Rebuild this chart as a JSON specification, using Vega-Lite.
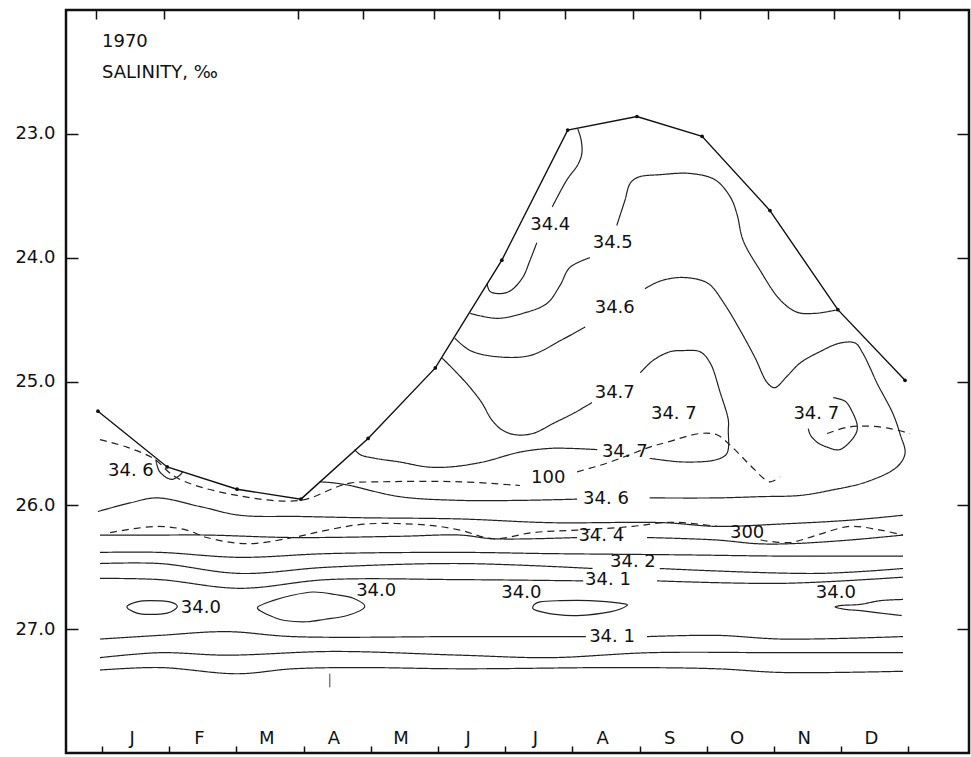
{
  "$schema": "https://vega.github.io/schema/vega-lite/v6.json",
  "width": 903,
  "height": 743,
  "autosize": {"type": "none"},
  "padding": {"left": 66, "top": 10, "right": 2, "bottom": 4},
  "background": "white",
  "config": {
    "view": {"stroke": "#111", "strokeWidth": 2.5},
    "font": "DejaVu Sans",
    "axis": {"domain": false, "grid": false, "tickColor": "#111", "tickWidth": 1.5, "labelColor": "#111", "labelFont": "DejaVu Sans", "labelFontSize": 18, "title": null}
  },
  "datasets": {
    "contours": [
      {"s": "s46s", "k": "salinity", "x": 0.80, "y": 25.63}, {"s": "s46s", "k": "salinity", "x": 0.86, "y": 25.73}, {"s": "s46s", "k": "salinity", "x": 1.03, "y": 25.79}, {"s": "s46s", "k": "salinity", "x": 1.15, "y": 25.76}, {"s": "s46s", "k": "salinity", "x": 1.20, "y": 25.73},
      {"s": "s44a", "k": "salinity", "x": 5.73, "y": 24.21}, {"s": "s44a", "k": "salinity", "x": 5.77, "y": 24.27}, {"s": "s44a", "k": "salinity", "x": 5.89, "y": 24.29}, {"s": "s44a", "k": "salinity", "x": 6.07, "y": 24.27}, {"s": "s44a", "k": "salinity", "x": 6.26, "y": 24.16}, {"s": "s44a", "k": "salinity", "x": 6.37, "y": 24.02}, {"s": "s44a", "k": "salinity", "x": 6.47, "y": 23.88},
      {"s": "s44b", "k": "salinity", "x": 6.70, "y": 23.59}, {"s": "s44b", "k": "salinity", "x": 6.92, "y": 23.37}, {"s": "s44b", "k": "salinity", "x": 7.08, "y": 23.25}, {"s": "s44b", "k": "salinity", "x": 7.14, "y": 23.16}, {"s": "s44b", "k": "salinity", "x": 7.13, "y": 23.05}, {"s": "s44b", "k": "salinity", "x": 7.08, "y": 22.96},
      {"s": "s45a", "k": "salinity", "x": 5.48, "y": 24.45}, {"s": "s45a", "k": "salinity", "x": 5.88, "y": 24.49}, {"s": "s45a", "k": "salinity", "x": 6.26, "y": 24.45}, {"s": "s45a", "k": "salinity", "x": 6.62, "y": 24.37}, {"s": "s45a", "k": "salinity", "x": 6.82, "y": 24.22}, {"s": "s45a", "k": "salinity", "x": 6.96, "y": 24.08}, {"s": "s45a", "k": "salinity", "x": 7.26, "y": 24.00},
      {"s": "s45b", "k": "salinity", "x": 7.66, "y": 23.74}, {"s": "s45b", "k": "salinity", "x": 7.78, "y": 23.54}, {"s": "s45b", "k": "salinity", "x": 7.86, "y": 23.40}, {"s": "s45b", "k": "salinity", "x": 7.98, "y": 23.35}, {"s": "s45b", "k": "salinity", "x": 8.30, "y": 23.33}, {"s": "s45b", "k": "salinity", "x": 8.75, "y": 23.32}, {"s": "s45b", "k": "salinity", "x": 9.12, "y": 23.37}, {"s": "s45b", "k": "salinity", "x": 9.35, "y": 23.51}, {"s": "s45b", "k": "salinity", "x": 9.45, "y": 23.65}, {"s": "s45b", "k": "salinity", "x": 9.54, "y": 23.86}, {"s": "s45b", "k": "salinity", "x": 9.79, "y": 24.10}, {"s": "s45b", "k": "salinity", "x": 10.09, "y": 24.34}, {"s": "s45b", "k": "salinity", "x": 10.34, "y": 24.44}, {"s": "s45b", "k": "salinity", "x": 10.61, "y": 24.45}, {"s": "s45b", "k": "salinity", "x": 10.95, "y": 24.42},
      {"s": "s46a", "k": "salinity", "x": 5.25, "y": 24.65}, {"s": "s46a", "k": "salinity", "x": 5.48, "y": 24.75}, {"s": "s46a", "k": "salinity", "x": 5.88, "y": 24.80}, {"s": "s46a", "k": "salinity", "x": 6.37, "y": 24.79}, {"s": "s46a", "k": "salinity", "x": 6.82, "y": 24.67}, {"s": "s46a", "k": "salinity", "x": 7.19, "y": 24.56},
      {"s": "s46b", "k": "salinity", "x": 8.08, "y": 24.25}, {"s": "s46b", "k": "salinity", "x": 8.30, "y": 24.19}, {"s": "s46b", "k": "salinity", "x": 8.60, "y": 24.16}, {"s": "s46b", "k": "salinity", "x": 8.90, "y": 24.18}, {"s": "s46b", "k": "salinity", "x": 9.05, "y": 24.22}, {"s": "s46b", "k": "salinity", "x": 9.27, "y": 24.38}, {"s": "s46b", "k": "salinity", "x": 9.49, "y": 24.58}, {"s": "s46b", "k": "salinity", "x": 9.72, "y": 24.81}, {"s": "s46b", "k": "salinity", "x": 9.90, "y": 25.01}, {"s": "s46b", "k": "salinity", "x": 10.01, "y": 25.05}, {"s": "s46b", "k": "salinity", "x": 10.19, "y": 24.96}, {"s": "s46b", "k": "salinity", "x": 10.39, "y": 24.85}, {"s": "s46b", "k": "salinity", "x": 10.68, "y": 24.76}, {"s": "s46b", "k": "salinity", "x": 10.98, "y": 24.69}, {"s": "s46b", "k": "salinity", "x": 11.21, "y": 24.69}, {"s": "s46b", "k": "salinity", "x": 11.32, "y": 24.77}, {"s": "s46b", "k": "salinity", "x": 11.43, "y": 24.89}, {"s": "s46b", "k": "salinity", "x": 11.53, "y": 25.01}, {"s": "s46b", "k": "salinity", "x": 11.77, "y": 25.26}, {"s": "s46b", "k": "salinity", "x": 11.88, "y": 25.43}, {"s": "s46b", "k": "salinity", "x": 11.95, "y": 25.58}, {"s": "s46b", "k": "salinity", "x": 11.83, "y": 25.69}, {"s": "s46b", "k": "salinity", "x": 11.38, "y": 25.81}, {"s": "s46b", "k": "salinity", "x": 10.83, "y": 25.88}, {"s": "s46b", "k": "salinity", "x": 10.39, "y": 25.92}, {"s": "s46b", "k": "salinity", "x": 9.79, "y": 25.93}, {"s": "s46b", "k": "salinity", "x": 9.15, "y": 25.94}, {"s": "s46b", "k": "salinity", "x": 8.15, "y": 25.94},
      {"s": "s46c", "k": "salinity", "x": 7.07, "y": 25.95}, {"s": "s46c", "k": "salinity", "x": 6.22, "y": 25.96}, {"s": "s46c", "k": "salinity", "x": 5.33, "y": 25.96}, {"s": "s46c", "k": "salinity", "x": 4.43, "y": 25.93}, {"s": "s46c", "k": "salinity", "x": 3.69, "y": 25.84}, {"s": "s46c", "k": "salinity", "x": 3.47, "y": 25.82}, {"s": "s46c", "k": "salinity", "x": 3.24, "y": 25.81},
      {"s": "s47a", "k": "salinity", "x": 5.06, "y": 24.81}, {"s": "s47a", "k": "salinity", "x": 5.28, "y": 24.93}, {"s": "s47a", "k": "salinity", "x": 5.48, "y": 25.05}, {"s": "s47a", "k": "salinity", "x": 5.65, "y": 25.17}, {"s": "s47a", "k": "salinity", "x": 5.80, "y": 25.31}, {"s": "s47a", "k": "salinity", "x": 5.95, "y": 25.39}, {"s": "s47a", "k": "salinity", "x": 6.15, "y": 25.43}, {"s": "s47a", "k": "salinity", "x": 6.41, "y": 25.42}, {"s": "s47a", "k": "salinity", "x": 6.71, "y": 25.34}, {"s": "s47a", "k": "salinity", "x": 7.04, "y": 25.25}, {"s": "s47a", "k": "salinity", "x": 7.29, "y": 25.17},
      {"s": "s47b", "k": "salinity", "x": 8.01, "y": 24.93}, {"s": "s47b", "k": "salinity", "x": 8.20, "y": 24.83}, {"s": "s47b", "k": "salinity", "x": 8.45, "y": 24.76}, {"s": "s47b", "k": "salinity", "x": 8.65, "y": 24.75}, {"s": "s47b", "k": "salinity", "x": 8.90, "y": 24.76}, {"s": "s47b", "k": "salinity", "x": 9.05, "y": 24.85}, {"s": "s47b", "k": "salinity", "x": 9.20, "y": 25.09}, {"s": "s47b", "k": "salinity", "x": 9.32, "y": 25.31}, {"s": "s47b", "k": "salinity", "x": 9.32, "y": 25.39}, {"s": "s47b", "k": "salinity", "x": 9.30, "y": 25.58}, {"s": "s47b", "k": "salinity", "x": 9.15, "y": 25.63}, {"s": "s47b", "k": "salinity", "x": 8.65, "y": 25.65}, {"s": "s47b", "k": "salinity", "x": 8.15, "y": 25.62},
      {"s": "s47c", "k": "salinity", "x": 7.37, "y": 25.55}, {"s": "s47c", "k": "salinity", "x": 6.96, "y": 25.54}, {"s": "s47c", "k": "salinity", "x": 6.67, "y": 25.54}, {"s": "s47c", "k": "salinity", "x": 6.22, "y": 25.57}, {"s": "s47c", "k": "salinity", "x": 5.67, "y": 25.65}, {"s": "s47c", "k": "salinity", "x": 5.18, "y": 25.69}, {"s": "s47c", "k": "salinity", "x": 4.84, "y": 25.69}, {"s": "s47c", "k": "salinity", "x": 4.43, "y": 25.65}, {"s": "s47c", "k": "salinity", "x": 4.06, "y": 25.62}, {"s": "s47c", "k": "salinity", "x": 3.84, "y": 25.59}, {"s": "s47c", "k": "salinity", "x": 3.76, "y": 25.55},
      {"s": "s47r", "k": "salinity", "x": 10.88, "y": 25.13}, {"s": "s47r", "k": "salinity", "x": 11.06, "y": 25.16}, {"s": "s47r", "k": "salinity", "x": 11.16, "y": 25.24}, {"s": "s47r", "k": "salinity", "x": 11.24, "y": 25.36}, {"s": "s47r", "k": "salinity", "x": 11.21, "y": 25.43}, {"s": "s47r", "k": "salinity", "x": 10.98, "y": 25.55}, {"s": "s47r", "k": "salinity", "x": 10.79, "y": 25.53}, {"s": "s47r", "k": "salinity", "x": 10.64, "y": 25.49}, {"s": "s47r", "k": "salinity", "x": 10.54, "y": 25.43}, {"s": "s47r", "k": "salinity", "x": 10.51, "y": 25.38},
      {"s": "l45", "k": "salinity", "x": -0.06, "y": 26.05}, {"s": "l45", "k": "salinity", "x": 0.42, "y": 25.98}, {"s": "l45", "k": "salinity", "x": 0.82, "y": 25.94}, {"s": "l45", "k": "salinity", "x": 1.46, "y": 26.01}, {"s": "l45", "k": "salinity", "x": 2.05, "y": 26.08}, {"s": "l45", "k": "salinity", "x": 2.95, "y": 26.09}, {"s": "l45", "k": "salinity", "x": 3.84, "y": 26.10}, {"s": "l45", "k": "salinity", "x": 5.33, "y": 26.11}, {"s": "l45", "k": "salinity", "x": 6.67, "y": 26.14}, {"s": "l45", "k": "salinity", "x": 8.35, "y": 26.14}, {"s": "l45", "k": "salinity", "x": 9.15, "y": 26.17}, {"s": "l45", "k": "salinity", "x": 10.13, "y": 26.15}, {"s": "l45", "k": "salinity", "x": 11.13, "y": 26.12}, {"s": "l45", "k": "salinity", "x": 11.92, "y": 26.08},
      {"s": "l44a", "k": "salinity", "x": -0.03, "y": 26.24}, {"s": "l44a", "k": "salinity", "x": 0.86, "y": 26.24}, {"s": "l44a", "k": "salinity", "x": 1.56, "y": 26.24}, {"s": "l44a", "k": "salinity", "x": 2.84, "y": 26.26}, {"s": "l44a", "k": "salinity", "x": 4.43, "y": 26.25}, {"s": "l44a", "k": "salinity", "x": 5.33, "y": 26.24}, {"s": "l44a", "k": "salinity", "x": 5.82, "y": 26.27}, {"s": "l44a", "k": "salinity", "x": 7.07, "y": 26.26},
      {"s": "l44b", "k": "salinity", "x": 8.11, "y": 26.26}, {"s": "l44b", "k": "salinity", "x": 9.15, "y": 26.28}, {"s": "l44b", "k": "salinity", "x": 9.75, "y": 26.31}, {"s": "l44b", "k": "salinity", "x": 10.24, "y": 26.31}, {"s": "l44b", "k": "salinity", "x": 11.13, "y": 26.28}, {"s": "l44b", "k": "salinity", "x": 11.92, "y": 26.24},
      {"s": "l43", "k": "salinity", "x": -0.03, "y": 26.38}, {"s": "l43", "k": "salinity", "x": 0.86, "y": 26.38}, {"s": "l43", "k": "salinity", "x": 2.05, "y": 26.42}, {"s": "l43", "k": "salinity", "x": 3.35, "y": 26.39}, {"s": "l43", "k": "salinity", "x": 5.33, "y": 26.38}, {"s": "l43", "k": "salinity", "x": 6.67, "y": 26.39}, {"s": "l43", "k": "salinity", "x": 8.65, "y": 26.40}, {"s": "l43", "k": "salinity", "x": 10.13, "y": 26.41}, {"s": "l43", "k": "salinity", "x": 11.92, "y": 26.41},
      {"s": "l42a", "k": "salinity", "x": -0.03, "y": 26.47}, {"s": "l42a", "k": "salinity", "x": 0.86, "y": 26.47}, {"s": "l42a", "k": "salinity", "x": 2.05, "y": 26.55}, {"s": "l42a", "k": "salinity", "x": 3.35, "y": 26.50}, {"s": "l42a", "k": "salinity", "x": 5.33, "y": 26.47}, {"s": "l42a", "k": "salinity", "x": 7.30, "y": 26.51},
      {"s": "l42b", "k": "salinity", "x": 8.30, "y": 26.51}, {"s": "l42b", "k": "salinity", "x": 10.64, "y": 26.55}, {"s": "l42b", "k": "salinity", "x": 11.92, "y": 26.51},
      {"s": "l41a", "k": "salinity", "x": -0.03, "y": 26.59}, {"s": "l41a", "k": "salinity", "x": 0.86, "y": 26.60}, {"s": "l41a", "k": "salinity", "x": 2.05, "y": 26.67}, {"s": "l41a", "k": "salinity", "x": 3.35, "y": 26.60}, {"s": "l41a", "k": "salinity", "x": 5.33, "y": 26.60}, {"s": "l41a", "k": "salinity", "x": 7.16, "y": 26.61},
      {"s": "l41b", "k": "salinity", "x": 8.26, "y": 26.61}, {"s": "l41b", "k": "salinity", "x": 10.13, "y": 26.63}, {"s": "l41b", "k": "salinity", "x": 11.92, "y": 26.58},
      {"s": "o40", "k": "salinity", "x": 11.92, "y": 26.76}, {"s": "o40", "k": "salinity", "x": 11.58, "y": 26.77}, {"s": "o40", "k": "salinity", "x": 11.28, "y": 26.80}, {"s": "o40", "k": "salinity", "x": 10.98, "y": 26.81}, {"s": "o40", "k": "salinity", "x": 10.91, "y": 26.82}, {"s": "o40", "k": "salinity", "x": 11.06, "y": 26.84}, {"s": "o40", "k": "salinity", "x": 11.28, "y": 26.85}, {"s": "o40", "k": "salinity", "x": 11.58, "y": 26.87}, {"s": "o40", "k": "salinity", "x": 11.90, "y": 26.89},
      {"s": "g41a", "k": "salinity", "x": -0.03, "y": 27.08}, {"s": "g41a", "k": "salinity", "x": 0.86, "y": 27.05}, {"s": "g41a", "k": "salinity", "x": 1.86, "y": 27.02}, {"s": "g41a", "k": "salinity", "x": 2.84, "y": 27.06}, {"s": "g41a", "k": "salinity", "x": 5.33, "y": 27.06}, {"s": "g41a", "k": "salinity", "x": 7.20, "y": 27.06},
      {"s": "g41b", "k": "salinity", "x": 8.11, "y": 27.06}, {"s": "g41b", "k": "salinity", "x": 9.15, "y": 27.05}, {"s": "g41b", "k": "salinity", "x": 10.13, "y": 27.08}, {"s": "g41b", "k": "salinity", "x": 11.92, "y": 27.06},
      {"s": "h", "k": "salinity", "x": -0.03, "y": 27.23}, {"s": "h", "k": "salinity", "x": 0.86, "y": 27.19}, {"s": "h", "k": "salinity", "x": 1.86, "y": 27.21}, {"s": "h", "k": "salinity", "x": 3.44, "y": 27.18}, {"s": "h", "k": "salinity", "x": 5.33, "y": 27.21}, {"s": "h", "k": "salinity", "x": 6.67, "y": 27.23}, {"s": "h", "k": "salinity", "x": 8.15, "y": 27.19}, {"s": "h", "k": "salinity", "x": 10.13, "y": 27.19}, {"s": "h", "k": "salinity", "x": 11.92, "y": 27.19},
      {"s": "i", "k": "salinity", "x": -0.03, "y": 27.33}, {"s": "i", "k": "salinity", "x": 0.86, "y": 27.31}, {"s": "i", "k": "salinity", "x": 2.01, "y": 27.36}, {"s": "i", "k": "salinity", "x": 2.84, "y": 27.32}, {"s": "i", "k": "salinity", "x": 3.84, "y": 27.31}, {"s": "i", "k": "salinity", "x": 5.33, "y": 27.32}, {"s": "i", "k": "salinity", "x": 7.75, "y": 27.31}, {"s": "i", "k": "salinity", "x": 9.15, "y": 27.32}, {"s": "i", "k": "salinity", "x": 10.13, "y": 27.35}, {"s": "i", "k": "salinity", "x": 11.92, "y": 27.34},
      {"s": "d100a", "k": "depth", "x": -0.03, "y": 25.47}, {"s": "d100a", "k": "depth", "x": 0.37, "y": 25.53}, {"s": "d100a", "k": "depth", "x": 0.76, "y": 25.62}, {"s": "d100a", "k": "depth", "x": 1.12, "y": 25.78}, {"s": "d100a", "k": "depth", "x": 2.01, "y": 25.92}, {"s": "d100a", "k": "depth", "x": 2.95, "y": 25.96}, {"s": "d100a", "k": "depth", "x": 3.50, "y": 25.85}, {"s": "d100a", "k": "depth", "x": 3.69, "y": 25.82}, {"s": "d100a", "k": "depth", "x": 4.13, "y": 25.81}, {"s": "d100a", "k": "depth", "x": 5.33, "y": 25.81}, {"s": "d100a", "k": "depth", "x": 6.22, "y": 25.84},
      {"s": "d100b", "k": "depth", "x": 7.07, "y": 25.73}, {"s": "d100b", "k": "depth", "x": 7.51, "y": 25.66}, {"s": "d100b", "k": "depth", "x": 7.86, "y": 25.59}, {"s": "d100b", "k": "depth", "x": 8.15, "y": 25.53}, {"s": "d100b", "k": "depth", "x": 8.41, "y": 25.49}, {"s": "d100b", "k": "depth", "x": 8.90, "y": 25.42}, {"s": "d100b", "k": "depth", "x": 9.15, "y": 25.43}, {"s": "d100b", "k": "depth", "x": 9.32, "y": 25.50}, {"s": "d100b", "k": "depth", "x": 9.49, "y": 25.59}, {"s": "d100b", "k": "depth", "x": 9.67, "y": 25.69}, {"s": "d100b", "k": "depth", "x": 9.94, "y": 25.81}, {"s": "d100b", "k": "depth", "x": 10.09, "y": 25.77},
      {"s": "d100c", "k": "depth", "x": 10.79, "y": 25.42}, {"s": "d100c", "k": "depth", "x": 11.09, "y": 25.37}, {"s": "d100c", "k": "depth", "x": 11.38, "y": 25.36}, {"s": "d100c", "k": "depth", "x": 11.73, "y": 25.38}, {"s": "d100c", "k": "depth", "x": 12.02, "y": 25.42},
      {"s": "d300a", "k": "depth", "x": 0.12, "y": 26.22}, {"s": "d300a", "k": "depth", "x": 0.82, "y": 26.17}, {"s": "d300a", "k": "depth", "x": 1.26, "y": 26.20}, {"s": "d300a", "k": "depth", "x": 1.56, "y": 26.26}, {"s": "d300a", "k": "depth", "x": 2.16, "y": 26.31}, {"s": "d300a", "k": "depth", "x": 2.84, "y": 26.26}, {"s": "d300a", "k": "depth", "x": 3.35, "y": 26.20}, {"s": "d300a", "k": "depth", "x": 3.94, "y": 26.15}, {"s": "d300a", "k": "depth", "x": 4.84, "y": 26.16}, {"s": "d300a", "k": "depth", "x": 5.33, "y": 26.20}, {"s": "d300a", "k": "depth", "x": 5.82, "y": 26.27}, {"s": "d300a", "k": "depth", "x": 6.41, "y": 26.22}, {"s": "d300a", "k": "depth", "x": 7.07, "y": 26.20}, {"s": "d300a", "k": "depth", "x": 7.90, "y": 26.17}, {"s": "d300a", "k": "depth", "x": 8.35, "y": 26.14}, {"s": "d300a", "k": "depth", "x": 8.65, "y": 26.14}, {"s": "d300a", "k": "depth", "x": 9.15, "y": 26.17},
      {"s": "d300b", "k": "depth", "x": 9.80, "y": 26.28}, {"s": "d300b", "k": "depth", "x": 10.24, "y": 26.30}, {"s": "d300b", "k": "depth", "x": 10.64, "y": 26.24}, {"s": "d300b", "k": "depth", "x": 11.13, "y": 26.17}, {"s": "d300b", "k": "depth", "x": 11.58, "y": 26.20}, {"s": "d300b", "k": "depth", "x": 11.92, "y": 26.24}
    ],
    "loops": [
      {"s": "c1", "x": 0.37, "y": 26.82}, {"s": "c1", "x": 0.52, "y": 26.78}, {"s": "c1", "x": 0.71, "y": 26.77}, {"s": "c1", "x": 1.01, "y": 26.78}, {"s": "c1", "x": 1.12, "y": 26.82}, {"s": "c1", "x": 0.97, "y": 26.87}, {"s": "c1", "x": 0.71, "y": 26.88}, {"s": "c1", "x": 0.52, "y": 26.87},
      {"s": "c2", "x": 2.32, "y": 26.82}, {"s": "c2", "x": 2.54, "y": 26.77}, {"s": "c2", "x": 2.80, "y": 26.73}, {"s": "c2", "x": 3.14, "y": 26.70}, {"s": "c2", "x": 3.47, "y": 26.72}, {"s": "c2", "x": 3.74, "y": 26.75}, {"s": "c2", "x": 3.91, "y": 26.82}, {"s": "c2", "x": 3.65, "y": 26.89}, {"s": "c2", "x": 3.32, "y": 26.92}, {"s": "c2", "x": 3.05, "y": 26.94}, {"s": "c2", "x": 2.72, "y": 26.93}, {"s": "c2", "x": 2.54, "y": 26.90}, {"s": "c2", "x": 2.38, "y": 26.86},
      {"s": "c3", "x": 6.41, "y": 26.82}, {"s": "c3", "x": 6.52, "y": 26.78}, {"s": "c3", "x": 6.82, "y": 26.77}, {"s": "c3", "x": 7.26, "y": 26.77}, {"s": "c3", "x": 7.71, "y": 26.79}, {"s": "c3", "x": 7.81, "y": 26.81}, {"s": "c3", "x": 7.56, "y": 26.86}, {"s": "c3", "x": 7.07, "y": 26.89}, {"s": "c3", "x": 6.74, "y": 26.88}, {"s": "c3", "x": 6.47, "y": 26.85}
    ],
    "surface": [
      {"x": -0.06, "y": 25.24}, {"x": 0.97, "y": 25.69}, {"x": 2.01, "y": 25.87}, {"x": 2.96, "y": 25.95}, {"x": 3.96, "y": 25.46}, {"x": 4.96, "y": 24.89}, {"x": 5.95, "y": 24.02}, {"x": 6.93, "y": 22.97}, {"x": 7.96, "y": 22.86}, {"x": 8.93, "y": 23.02}, {"x": 9.94, "y": 23.62}, {"x": 10.95, "y": 24.42}, {"x": 11.95, "y": 24.99}
    ],
    "labels": [
      {"t": "34. 6", "x": 0.43, "y": 25.72},
      {"t": "34.4", "x": 6.67, "y": 23.74},
      {"t": "34.5", "x": 7.60, "y": 23.88},
      {"t": "34.6", "x": 7.63, "y": 24.41},
      {"t": "34.7", "x": 7.63, "y": 25.09},
      {"t": "34. 7", "x": 8.51, "y": 25.26},
      {"t": "34. 7", "x": 7.78, "y": 25.57},
      {"t": "34. 7", "x": 10.63, "y": 25.26},
      {"t": "100", "x": 6.64, "y": 25.78},
      {"t": "34. 6", "x": 7.50, "y": 25.95},
      {"t": "34. 4", "x": 7.43, "y": 26.25},
      {"t": "300", "x": 9.60, "y": 26.22},
      {"t": "34. 2", "x": 7.90, "y": 26.46},
      {"t": "34. 1", "x": 7.53, "y": 26.60},
      {"t": "34.0", "x": 1.47, "y": 26.83},
      {"t": "34.0", "x": 4.08, "y": 26.69},
      {"t": "34.0", "x": 6.24, "y": 26.71},
      {"t": "34.0", "x": 10.92, "y": 26.71},
      {"t": "34. 1", "x": 7.59, "y": 27.06}
    ],
    "months": [
      {"t": "J", "x": 0.45, "y": 27.89}, {"t": "F", "x": 1.45, "y": 27.89}, {"t": "M", "x": 2.45, "y": 27.89}, {"t": "A", "x": 3.45, "y": 27.89}, {"t": "M", "x": 4.45, "y": 27.89}, {"t": "J", "x": 5.45, "y": 27.89}, {"t": "J", "x": 6.45, "y": 27.89}, {"t": "A", "x": 7.45, "y": 27.89}, {"t": "S", "x": 8.45, "y": 27.89}, {"t": "O", "x": 9.45, "y": 27.89}, {"t": "N", "x": 10.45, "y": 27.89}, {"t": "D", "x": 11.45, "y": 27.89}
    ],
    "titles": [
      {"t": "1970", "x": 0.0, "y": 22.255},
      {"t": "SALINITY, ‰", "x": 0.0, "y": 22.505}
    ],
    "stray": [
      {"x": 3.39, "y": 27.36, "y2": 27.47}
    ]
  },
  "encoding": {
    "x": {"field": "x", "type": "quantitative", "scale": {"domain": [-0.536, 12.902], "nice": false, "zero": false}, "axis": null},
    "y": {"field": "y", "type": "quantitative", "scale": {"domain": [22, 28], "reverse": true, "nice": false, "zero": false}, "axis": null}
  },
  "layer": [
    {
      "data": {"name": "contours"},
      "mark": {"type": "line", "interpolate": "catmull-rom", "strokeWidth": 1.2, "color": "#222"},
      "encoding": {
        "x": {"field": "x", "type": "quantitative", "scale": {"domain": [-0.536, 12.902], "nice": false, "zero": false},
              "axis": {"orient": "bottom", "values": [0, 1, 2, 3, 4, 5, 6, 7, 8, 9, 10, 11, 12], "labels": false, "tickSize": -7, "domain": false}},
        "y": {"field": "y", "type": "quantitative", "scale": {"domain": [22, 28], "reverse": true, "nice": false, "zero": false},
              "axis": {"orient": "left", "values": [23, 24, 25, 26, 27], "format": ".1f", "tickSize": -12, "labelPadding": 23, "domain": false}},
        "detail": {"field": "s"},
        "strokeDash": {"field": "k", "type": "nominal", "scale": {"domain": ["salinity", "depth"], "range": [[1, 0], [7, 5]]}, "legend": null},
        "order": {"value": null}
      }
    },
    {
      "data": {"name": "surface"},
      "mark": {"type": "line", "strokeWidth": 1.4, "color": "#111"},
      "encoding": {
        "x": {"field": "x", "type": "quantitative", "scale": {"domain": [-0.536, 12.902], "nice": false, "zero": false},
              "axis": {"orient": "top", "values": [-0.09, 0.92, 2.92, 3.88, 4.94, 5.91, 6.89, 7.9, 8.9, 9.91, 10.89, 11.86], "labels": false, "tickSize": -9, "domain": false}},
        "y": {"field": "y", "type": "quantitative", "scale": {"domain": [22, 28], "reverse": true, "nice": false, "zero": false},
              "axis": {"orient": "right", "values": [23, 24, 25, 26, 27], "labels": false, "tickSize": -12, "domain": false}}
      }
    },
    {
      "data": {"name": "surface"},
      "mark": {"type": "point", "filled": true, "size": 14, "color": "#111", "opacity": 1}
    },
    {
      "data": {"name": "loops"},
      "mark": {"type": "line", "interpolate": "cardinal-closed", "strokeWidth": 1.2, "color": "#222"},
      "encoding": {
        "detail": {"field": "s"},
        "order": {"value": null}
      }
    },
    {
      "data": {"name": "labels"},
      "mark": {"type": "text", "fontSize": 18, "color": "#111", "align": "center", "baseline": "middle"},
      "encoding": {"text": {"field": "t"}}
    },
    {
      "data": {"name": "months"},
      "mark": {"type": "text", "fontSize": 18, "color": "#111", "align": "center", "baseline": "middle"},
      "encoding": {"text": {"field": "t"}}
    },
    {
      "data": {"name": "titles"},
      "mark": {"type": "text", "fontSize": 18, "color": "#111", "align": "left", "baseline": "middle"},
      "encoding": {"text": {"field": "t"}}
    },
    {
      "data": {"name": "stray"},
      "mark": {"type": "rule", "strokeWidth": 1, "color": "#444"},
      "encoding": {"y2": {"field": "y2"}}
    }
  ],
  "resolve": {"axis": {"x": "independent", "y": "independent"}}
}
